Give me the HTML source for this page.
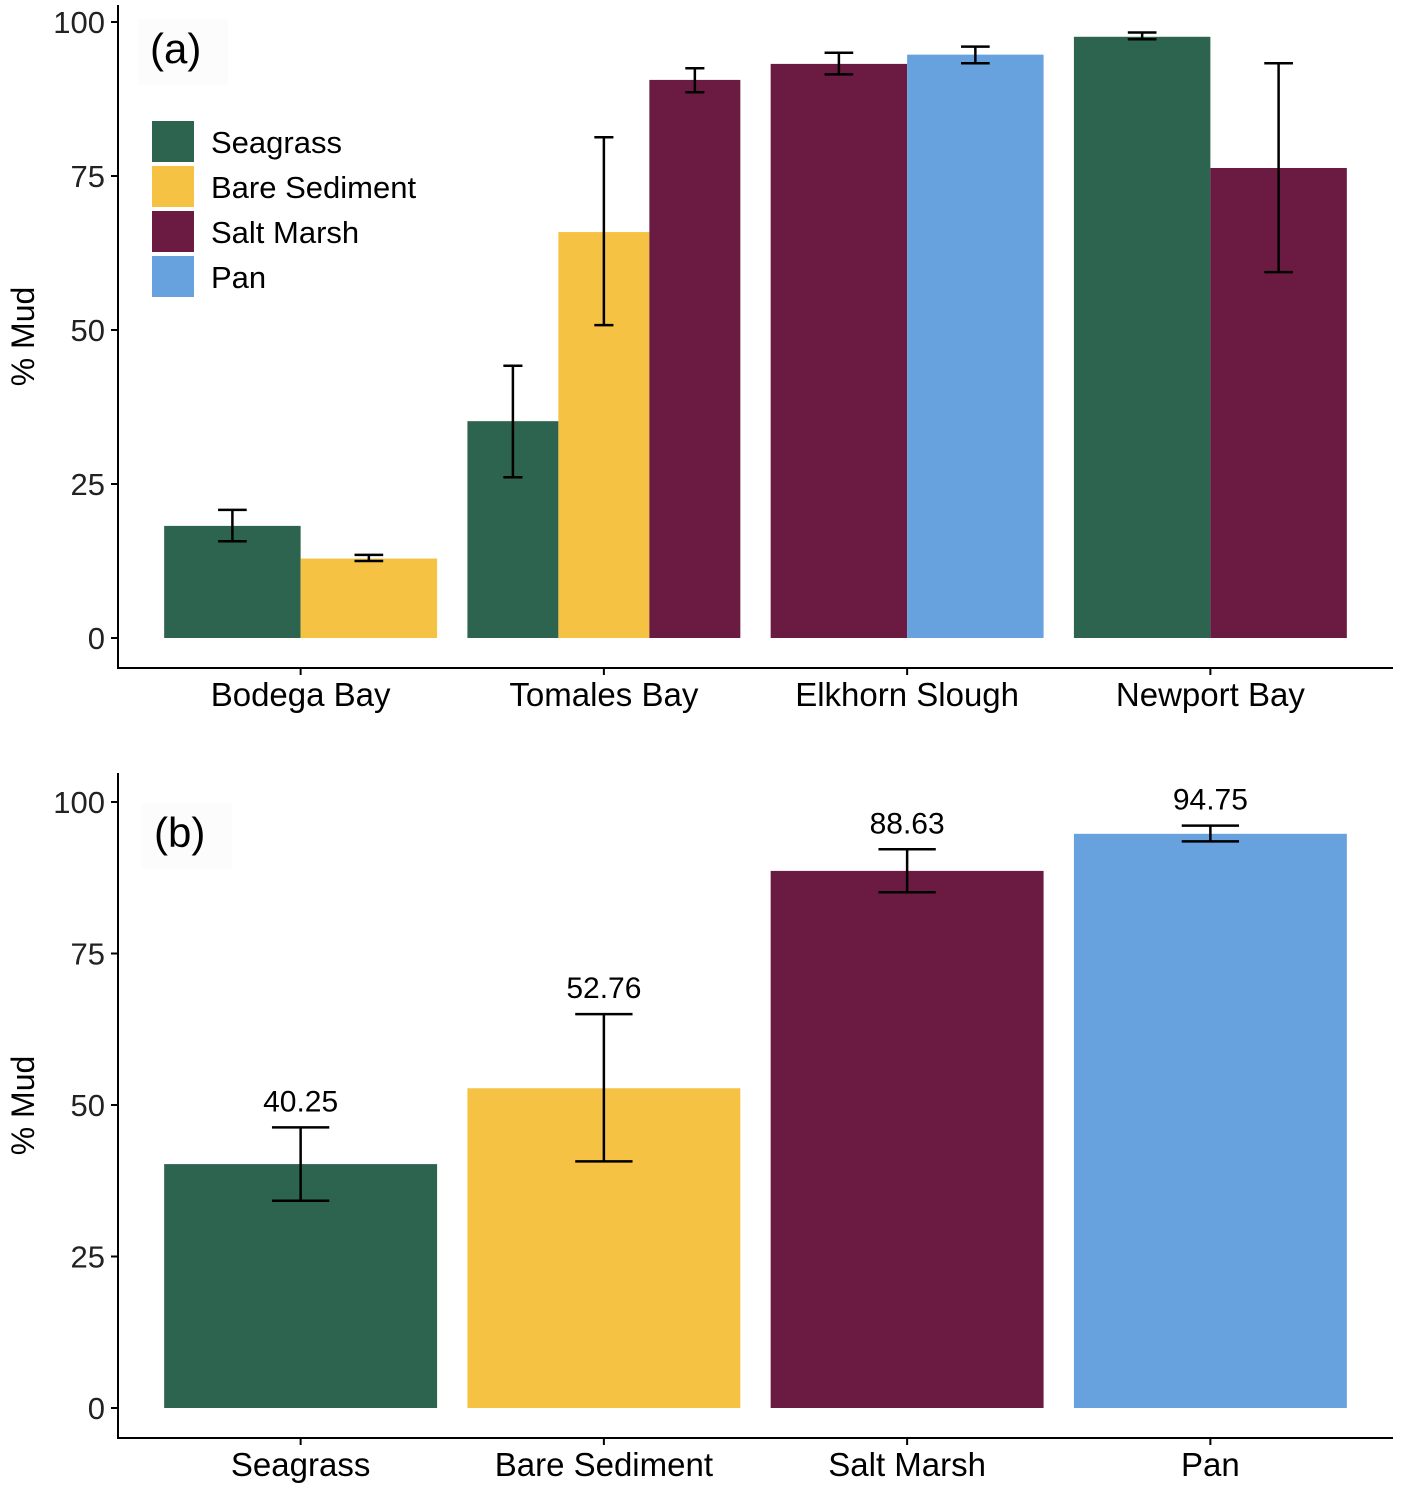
<!DOCTYPE html>
<html><head><meta charset="utf-8"><style>
body{margin:0;background:#fff}
svg{display:block;font-family:"Liberation Sans",Arial,sans-serif}
</style></head><body>
<svg id="chart" width="1404" height="1506" viewBox="0 0 1404 1506"></svg>
<script>
const colors={Seagrass:"#2d6450","Bare Sediment":"#f5c244","Salt Marsh":"#6b1b42",Pan:"#67a2df"};
const legendLabels=["Seagrass","Bare Sediment","Salt Marsh","Pan"];
const yTicks=[0,25,50,75,100];
// panel a
const sites=["Bodega Bay","Tomales Bay","Elkhorn Slough","Newport Bay"];
const siteHabitats=[["Seagrass","Bare Sediment"],["Seagrass","Bare Sediment","Salt Marsh"],["Salt Marsh","Pan"],["Seagrass","Salt Marsh"]];
const siteValues=[[18.2,12.9],[35.2,65.9,90.6],[93.2,94.7],[97.6,76.3]];
const siteLow=[[15.7,12.5],[26.1,50.8,88.6],[91.5,93.3],[97.2,59.4]];
const siteHigh=[[20.8,13.5],[44.2,81.3,92.5],[95.0,96.0],[98.3,93.3]];
// panel b
const habitats=["Seagrass","Bare Sediment","Salt Marsh","Pan"];
const habValues=[40.25,52.76,88.63,94.75];
const habLow=[34.2,40.7,85.1,93.5];
const habHigh=[46.3,65.0,92.2,96.1];

const svg=document.getElementById('chart');
const NS="http://www.w3.org/2000/svg";
function mk(tag,attrs,parent){const e=document.createElementNS(NS,tag);for(const k in attrs)e.setAttribute(k,attrs[k]);(parent||svg).appendChild(e);return e;}
function txt(s,attrs,parent){const e=mk('text',attrs,parent);e.textContent=s;return e;}

function panel(opt){
  const g=mk('g',{});
  
  
  const y=v=>opt.y0-(opt.y0-opt.y100)*v/100;
  const step=(opt.xEnd-opt.xStart)/opt.n;
  const xc=i=>opt.xStart+step*(i+0.5);
  mk('rect',{x:opt.lbX-12,y:opt.lbY-44,width:90,height:66,fill:"#fcfcfc"},g);
  const ax=mk('line',{x1:118,y1:opt.axTop,x2:118,y2:opt.axBot,stroke:"#000","stroke-width":2},g);
  
  const bx=mk('line',{x1:117,y1:opt.axBot,x2:1393,y2:opt.axBot,stroke:"#000","stroke-width":2},g);
  
  yTicks.forEach(t=>{
    mk('line',{x1:111,y1:y(t),x2:118,y2:y(t),stroke:"#000","stroke-width":2},g);
    const l=txt(String(t),{x:105,y:y(t)+11,"text-anchor":"end","font-size":31,fill:"#222"},g);
    
  });
  opt.cats.forEach((c,i)=>{
    mk('line',{x1:xc(i),y1:opt.axBot,x2:xc(i),y2:opt.axBot+7,stroke:"#000","stroke-width":2},g);
    const l=txt(c,{x:xc(i),y:opt.axBot+38,"text-anchor":"middle","font-size":33,fill:"#000"},g);
    
  });
  const yt=txt("% Mud",{x:0,y:0,transform:`translate(34,${(opt.axTop+opt.axBot)/2}) rotate(-90)`,"text-anchor":"middle","font-size":32,fill:"#000"},g);
  
  const gw=step*0.9;
  opt.groups.forEach((grp,i)=>{
    const bw=gw/grp.length;
    grp.forEach((h,j)=>{
      const x=xc(i)-gw/2+bw*j, v=opt.vals[i][j];
      const r=mk('rect',{x:x,y:y(v),width:bw,height:y(0)-y(v),fill:colors[h]},g);
      
      const cx=x+bw/2, cw=bw*0.21;
      const e=mk('path',{d:`M${cx-cw/2},${y(opt.hi[i][j])}H${cx+cw/2}M${cx},${y(opt.hi[i][j])}V${y(opt.lo[i][j])}M${cx-cw/2},${y(opt.lo[i][j])}H${cx+cw/2}`,stroke:"#000","stroke-width":2.5,fill:"none"},g);
      
      if(opt.labels){
        const l=txt(v.toFixed(2),{x:cx,y:y(opt.hi[i][j])-16,"text-anchor":"middle","font-size":30,fill:"#000"},g);
        
      }
    });
  });
  const pl=txt(opt.label,{x:opt.lbX,y:opt.lbY,"font-size":42,fill:"#000"},g);
  
  return g;
}
panel({name:'panel-a',y0:638,y100:22,axTop:5,axBot:668,xStart:149,xEnd:1362,n:4,cats:sites,groups:siteHabitats,vals:siteValues,lo:siteLow,hi:siteHigh,label:"(a)",lbX:150,lbY:63,labels:false});
panel({name:'panel-b',y0:1408,y100:802,axTop:773,axBot:1438,xStart:149,xEnd:1362,n:4,cats:habitats,groups:habitats.map(h=>[h]),vals:habValues.map(v=>[v]),lo:habLow.map(v=>[v]),hi:habHigh.map(v=>[v]),label:"(b)",lbX:154,lbY:847,labels:true});
const lg=mk('g',{});


legendLabels.forEach((h,i)=>{
  const yy=121+i*45;
  const k=mk('rect',{x:152,y:yy,width:42,height:41,fill:colors[h]},lg);
  
  const t=txt(h,{x:211,y:yy+32,"font-size":31,fill:"#000"},lg);
  
});
</script>
</body></html>
